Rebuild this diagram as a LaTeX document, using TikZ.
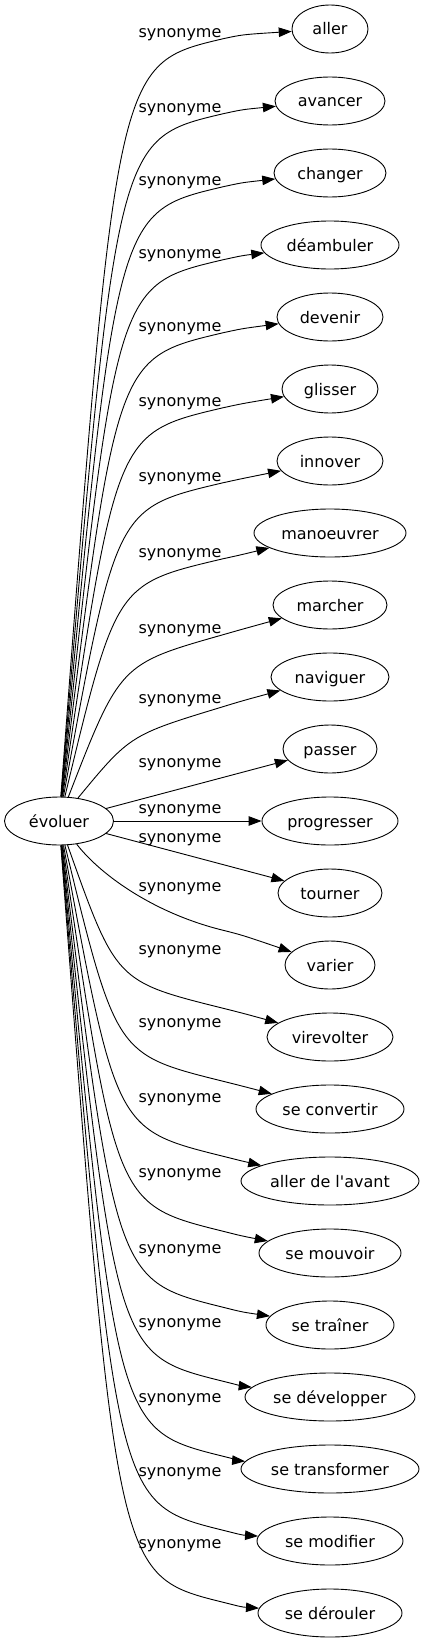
\documentclass[tikz,border=0pt]{standalone}
\usepackage{fontspec}
\setmainfont{DejaVu Sans}
\usetikzlibrary{arrows.meta,calc,shapes.geometric}
\begin{document}
\begin{tikzpicture}[x=1pt,y=-1pt,
  word/.style={draw, ellipse, line width=0.9pt, inner sep=0pt, minimum height=48pt,
    font=\fontsize{16}{19}\selectfont, text height=13pt, text depth=1pt},
  syn/.style={anchor=base, inner sep=0pt, font=\fontsize{16}{19}\selectfont},
  edge/.style={draw, line width=0.9pt, -{Triangle[length=13pt,width=9.5pt]}}]
\useasboundingbox (0,0) rectangle (428,1643);
% nodes
\node[word, minimum width=109pt] (evoluer) at (59,821) {évoluer};
\node[word, minimum width=76pt]  (n0)  at (330,29)   {aller};
\node[word, minimum width=110pt] (n1)  at (330,101)  {avancer};
\node[word, minimum width=112pt] (n2)  at (330,173)  {changer};
\node[word, minimum width=138pt] (n3)  at (330,245)  {déambuler};
\node[word, minimum width=106pt] (n4)  at (330,317)  {devenir};
\node[word, minimum width=96pt]  (n5)  at (330,389)  {glisser};
\node[word, minimum width=106pt] (n6)  at (330,461)  {innover};
\node[word, minimum width=152pt] (n7)  at (330,533)  {manoeuvrer};
\node[word, minimum width=114pt] (n8)  at (330,605)  {marcher};
\node[word, minimum width=118pt] (n9)  at (330,677)  {naviguer};
\node[word, minimum width=94pt]  (n10) at (330,749)  {passer};
\node[word, minimum width=136pt] (n11) at (330,821)  {progresser};
\node[word, minimum width=104pt] (n12) at (330,893)  {tourner};
\node[word, minimum width=90pt]  (n13) at (330,965)  {varier};
\node[word, minimum width=126pt] (n14) at (330,1037) {virevolter};
\node[word, minimum width=148pt] (n15) at (330,1109) {se convertir};
\node[word, minimum width=178pt] (n16) at (330,1181) {aller de l\textquotesingle avant};
\node[word, minimum width=142pt] (n17) at (330,1253) {se mouvoir};
\node[word, minimum width=128pt] (n18) at (330,1325) {se traîner};
\node[word, minimum width=170pt] (n19) at (330,1397) {se développer};
\node[word, minimum width=178pt] (n20) at (330,1469) {se transformer};
\node[word, minimum width=146pt] (n21) at (330,1541) {se modifier};
\node[word, minimum width=144pt] (n22) at (330,1613) {se dérouler};
% labels
\node[syn] (l0)  at (180,37.5)   {synonyme};
\node[syn] (l1)  at (180,112.5)  {synonyme};
\node[syn] (l2)  at (180,185.5)  {synonyme};
\node[syn] (l3)  at (180,258.5)  {synonyme};
\node[syn] (l4)  at (180,331.5)  {synonyme};
\node[syn] (l5)  at (180,406.5)  {synonyme};
\node[syn] (l6)  at (180,481.5)  {synonyme};
\node[syn] (l7)  at (180,557.5)  {synonyme};
\node[syn] (l8)  at (180,633.5)  {synonyme};
\node[syn] (l9)  at (180,703.5)  {synonyme};
\node[syn] (l10) at (180,767.5)  {synonyme};
\node[syn] (l11) at (180,813.5)  {synonyme};
\node[syn] (l12) at (180,842.5)  {synonyme};
\node[syn] (l13) at (180,891.5)  {synonyme};
\node[syn] (l14) at (180,954.5)  {synonyme};
\node[syn] (l15) at (180,1027.5) {synonyme};
\node[syn] (l16) at (180,1102.5) {synonyme};
\node[syn] (l17) at (180,1177.5) {synonyme};
\node[syn] (l18) at (180,1253.5) {synonyme};
\node[syn] (l19) at (180,1327.5) {synonyme};
\node[syn] (l20) at (180,1402.5) {synonyme};
\node[syn] (l21) at (180,1476.5) {synonyme};
\node[syn] (l22) at (180,1548.5) {synonyme};
% upper edges
\draw[edge] (evoluer) .. controls (116,64) and (116,64) .. (222,39) .. controls (242,34.6) .. (n0);
\draw[edge] (evoluer) .. controls (116,139) and (116,139) .. (222,114) .. controls (242,109.6) .. (n1);
\draw[edge] (evoluer) .. controls (116,212) and (116,212) .. (222,187) .. controls (242,182.6) .. (n2);
\draw[edge] (evoluer) .. controls (116,285) and (116,285) .. (222,260) .. controls (242,255.6) .. (n3);
\draw[edge] (evoluer) .. controls (116,358) and (116,358) .. (222,333) .. controls (242,328.6) .. (n4);
\draw[edge] (evoluer) .. controls (116,433) and (116,433) .. (222,408) .. controls (242,403.6) .. (n5);
\draw[edge] (evoluer) .. controls (116,508) and (116,508) .. (222,483) .. controls (242,478.6) .. (n6);
\draw[edge] (evoluer) .. controls (116,584) and (116,584) .. (222,559) .. controls (242,554.6) .. (n7);
\draw[edge] (evoluer) .. controls (120,664) and (120,664) .. (222,635) .. controls (242,629.3) .. (n8);
\draw[edge] (evoluer) .. controls (130,735) and (130,735) .. (222,707) .. controls (242,700.9) .. (n9);
% middle edges
\draw[edge] (evoluer) -- (n10);
\draw[edge] (evoluer) -- (n11);
\draw[edge] (evoluer) -- (n12);
\draw[edge] (evoluer) .. controls (98,872) and (150,912) .. (222,930) .. controls (242,935) .. (n13);
% lower edges
\draw[edge] (evoluer) .. controls (116,981.5) and (116,981.5) .. (222,1008) .. controls (242,1013) .. (n14);
\draw[edge] (evoluer) .. controls (116,1054.5) and (116,1054.5) .. (222,1081) .. controls (242,1086) .. (n15);
\draw[edge] (evoluer) .. controls (116,1129.5) and (116,1129.5) .. (222,1156) .. controls (242,1161) .. (n16);
\draw[edge] (evoluer) .. controls (116,1204.5) and (116,1204.5) .. (222,1231) .. controls (242,1236) .. (n17);
\draw[edge] (evoluer) .. controls (116,1280.5) and (116,1280.5) .. (222,1307) .. controls (242,1312) .. (n18);
\draw[edge] (evoluer) .. controls (116,1354.5) and (116,1354.5) .. (222,1381) .. controls (242,1386) .. (n19);
\draw[edge] (evoluer) .. controls (116,1429.5) and (116,1429.5) .. (222,1456) .. controls (242,1461) .. (n20);
\draw[edge] (evoluer) .. controls (116,1503.5) and (116,1503.5) .. (222,1530) .. controls (242,1535) .. (n21);
\draw[edge] (evoluer) .. controls (116,1575.5) and (116,1575.5) .. (222,1602) .. controls (242,1607) .. (n22);
\end{tikzpicture}
\end{document}
